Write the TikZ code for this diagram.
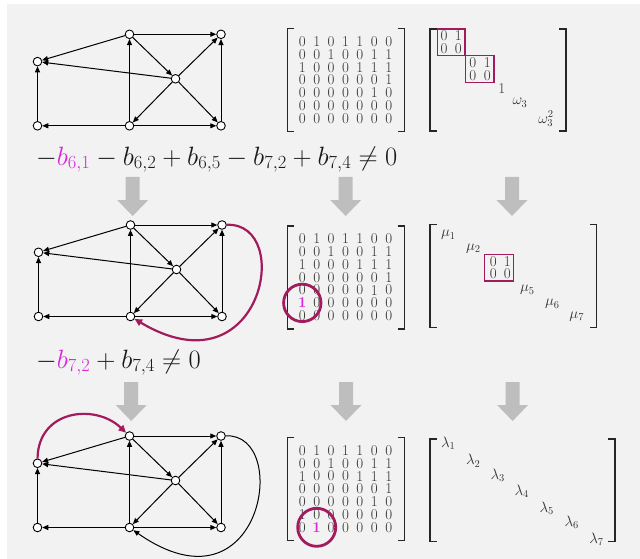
\RequirePackage{fix-cm}
\documentclass[tikz,border=0pt]{standalone}
\usetikzlibrary{arrows.meta}
\definecolor{bgc}{RGB}{242,242,242}
\definecolor{hl}{RGB}{214,40,214}
\definecolor{crim}{RGB}{163,27,92}
\definecolor{arrc}{RGB}{190,190,190}
\newcommand\mfont{\fontsize{15}{17}\selectfont}
\newcommand\ffont{\fontsize{26.5}{31}\selectfont}
\newcommand\hone{\textcolor{hl}{\textbf{1}}}
\tikzset{
  gnode/.style={circle, draw, fill=white, inner sep=0pt, minimum size=8.6pt, line width=0.9pt},
  gedge/.style={line width=1pt, -{Triangle[length=6pt,width=5pt]}},
  hcurve/.style={draw=crim, line width=2.2pt, -{Triangle[length=7.5pt,width=7pt]}},
  dig/.style={inner sep=0pt, font=\mfont, text=black!80},
  ent/.style={inner sep=0pt, font=\mfont, text=black!80},
  brk/.style={line width=1.4pt, black!85},
  hbox/.style={draw=crim, line width=1.2pt},
  ring/.style={draw=crim, line width=2.8pt},
  formula/.style={inner sep=0pt, anchor=base west, font=\ffont, text=black!90},
}
\newcommand\drawgraph[2]{%
  \begin{scope}[shift={#2}]
    \node[gnode] (#1A) at (-92,27.3) {};
    \node[gnode] (#1B) at (-92,91.5) {};
    \node[gnode] (#1C) at (0,0) {};
    \node[gnode] (#1D) at (91.5,0) {};
    \node[gnode] (#1E) at (46,44.5) {};
    \node[gnode] (#1F) at (0,91.5) {};
    \node[gnode] (#1G) at (91.5,91.5) {};
    \draw[gedge] (#1C) -- (#1A);
    \draw[gedge] (#1E) -- (#1A);
    \draw[gedge] (#1B) -- (#1A);
    \draw[gedge] (#1F) -- (#1B);
    \draw[gedge] (#1F) -- (#1C);
    \draw[gedge] (#1C) -- (#1D);
    \draw[gedge] (#1C) -- (#1E);
    \draw[gedge] (#1E) -- (#1D);
    \draw[gedge] (#1E) -- (#1F);
    \draw[gedge] (#1E) -- (#1G);
    \draw[gedge] (#1F) -- (#1G);
    \draw[gedge] (#1G) -- (#1D);
  \end{scope}}
\newcommand\adjmat[3]{%
  \foreach \row [count=\i] in {#3} {
    \foreach \v [count=\j] in \row {
      \node[dig] (#1-\i-\j) at ({302.3+(\j-1)*14.4},{#2+(\i-4)*12.8}) {\v};
    }
  }
  \draw[brk] (294.3,{#2-51.5}) -- (287.3,{#2-51.5}) -- (287.3,{#2+51.5}) -- (294.3,{#2+51.5});
  \draw[brk] (397.5,{#2-51.5}) -- (404.5,{#2-51.5}) -- (404.5,{#2+51.5}) -- (397.5,{#2+51.5});
}
\newcommand\bracks[4]{% left right top bottom
  \draw[brk] ({#1+7},#3) -- (#1,#3) -- (#1,#4) -- ({#1+7},#4);
  \draw[brk] ({#2-7},#3) -- (#2,#3) -- (#2,#4) -- ({#2-7},#4);
}
\newcommand\garrow[2]{%
  \fill[arrc] ({#1-7},#2) -- ({#1+7},#2) -- ({#1+7},{#2+23}) -- ({#1+15.5},{#2+23})
    -- (#1,{#2+39}) -- ({#1-15.5},{#2+23}) -- ({#1-7},{#2+23}) -- cycle;
}
\begin{document}
\begin{tikzpicture}[x=1pt,y=-1pt]
\useasboundingbox (0,0) rectangle (640,559);
\fill[bgc] (7,4) rectangle (640,559);

% graphs
\drawgraph{ga}{(129.5,34.3)}
\drawgraph{gb}{(130.5,225)}
\drawgraph{gc}{(129.5,436)}
\draw[hcurve] (gbD) .. controls (295,222) and (262,395) .. (gbF);
\draw[gedge] (gcD) .. controls (292,433) and (262,620) .. (gcF);
\draw[hcurve] (gcA) .. controls (38,410) and (95,403) .. (gcC);

% adjacency matrices
\adjmat{ma}{80}{{0,1,0,1,1,0,0},{0,0,1,0,0,1,1},{1,0,0,0,1,1,1},{0,0,0,0,0,0,1},{0,0,0,0,0,1,0},{0,0,0,0,0,0,0},{0,0,0,0,0,0,0}}
\adjmat{mb}{277.3}{{0,1,0,1,1,0,0},{0,0,1,0,0,1,1},{1,0,0,0,1,1,1},{0,0,0,0,0,0,1},{0,0,0,0,0,1,0},{\hone,0,0,0,0,0,0},{0,0,0,0,0,0,0}}
\adjmat{mc}{488.9}{{0,1,0,1,1,0,0},{0,0,1,0,0,1,1},{1,0,0,0,1,1,1},{0,0,0,0,0,0,1},{0,0,0,0,0,1,0},{1,0,0,0,0,0,0},{0,\hone,0,0,0,0,0}}
\draw[ring] (mb-6-1) circle[radius=18.7];
\draw[ring] (mc-7-2) circle[radius=19];

% Jordan form 1
\bracks{430}{566}{29}{131}
\draw[hbox] (437.7,29) rectangle (465,55.7);
\node[ent] (ja11) at (444,35.8) {0};
\node[ent] (ja12) at (458.3,35.8) {1};
\node[ent] (ja21) at (444,49) {0};
\node[ent] (ja22) at (458.3,49) {0};
\draw[hbox] (465.7,55.7) rectangle (494,82.3);
\node[ent] (jb11) at (472.7,62.5) {0};
\node[ent] (jb12) at (487.3,62.5) {1};
\node[ent] (jb21) at (472.7,75.5) {0};
\node[ent] (jb22) at (487.3,75.5) {0};
\node[ent] (jone) at (501.7,88.3) {1};
\node[ent] (jw1) at (520,102.7) {$\omega_3$};
\node[ent] (jw2) at (546,119) {$\omega_3^2$};

% Jordan form 2
\bracks{430}{596.7}{224.3}{327.3}
\node[ent] (mu1) at (448.3,235) {$\mu_1$};
\node[ent] (mu2) at (473.3,248.3) {$\mu_2$};
\draw[hbox] (484.3,254.3) rectangle (513.3,281);
\node[ent] (jc11) at (493.3,261.7) {0};
\node[ent] (jc12) at (507.3,261.7) {1};
\node[ent] (jc21) at (493.3,274) {0};
\node[ent] (jc22) at (507.3,274) {0};
\node[ent] (mu5) at (527.3,290) {$\mu_5$};
\node[ent] (mu6) at (552.3,304) {$\mu_6$};
\node[ent] (mu7) at (576.7,316.7) {$\mu_7$};

% diagonal form
\bracks{430}{615}{439}{541.7}
\node[ent] (la1) at (448.3,443.3) {$\lambda_1$};
\node[ent] (la2) at (473.3,460.7) {$\lambda_2$};
\node[ent] (la3) at (497.7,475) {$\lambda_3$};
\node[ent] (la4) at (521.7,491) {$\lambda_4$};
\node[ent] (la5) at (546.7,508.3) {$\lambda_5$};
\node[ent] (la6) at (571.7,522.3) {$\lambda_6$};
\node[ent] (la7) at (596.5,539) {$\lambda_7$};

% formulas
\node[formula] (f1) at (36,165) {$-{\color{hl}b_{6,1}} - b_{6,2} + b_{6,5} - b_{7,2} + b_{7,4} \neq 0$};
\node[formula] (f2) at (36,368) {$-{\color{hl}b_{7,2}} + b_{7,4} \neq 0$};

% gray arrows
\garrow{132.7}{177}
\garrow{345.7}{177}
\garrow{512}{177}
\garrow{131.2}{382}
\garrow{346}{382}
\garrow{512.6}{382}
\end{tikzpicture}
\end{document}
